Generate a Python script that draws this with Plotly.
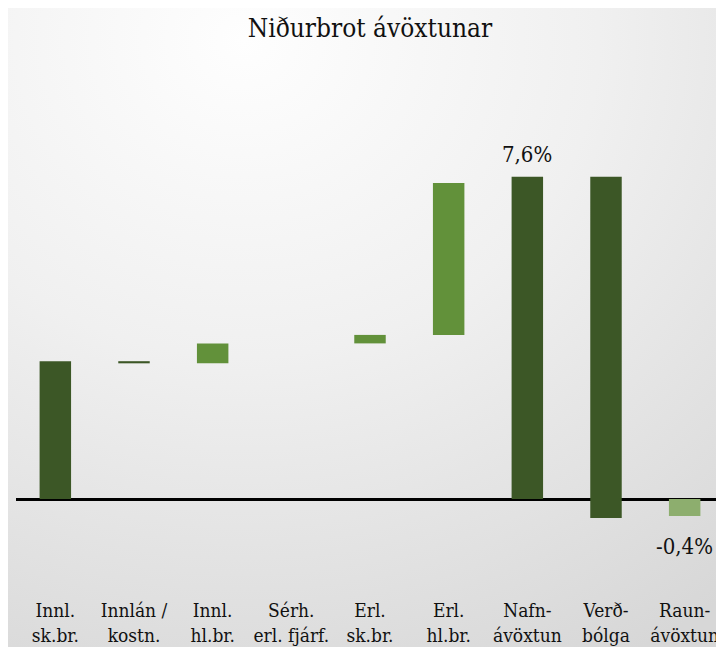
import base64
import plotly.graph_objects as go

# categories (x tick labels) and bar ends in %
categories = ["Innl.<br>sk.br.", "Innlán /<br>kostn.", "Innl.<br>hl.br.", "Sérh.<br>erl. fjárf.",
              "Erl.<br>sk.br.", "Erl.<br>hl.br.", "Nafn-<br>ávöxtun", "Verð-<br>bólga", "Raun-<br>ávöxtun"]
bar_start = [0.0, 3.25, 3.20, 3.67, 3.67, 3.87, 0.0, 7.6, 0.0]
bar_end = [3.25, 3.20, 3.67, 3.67, 3.87, 7.45, 7.6, -0.45, -0.4]
bar_kind = ["total", "neg", "pos", "pos", "pos", "pos", "total", "neg", "real"]
show_label = [False, False, False, False, False, False, True, False, True]

kind_colors = {"total": "#3C5726", "neg": "#3C5726", "pos": "#62913A", "real": "#8DAE6E"}
serif = "DejaVu Serif Condensed, Liberation Serif, serif"

# the page body adds an 8px margin, so the figure is 8px smaller each way
W, H = 716, 639
ML, MR, MT, MB = 8, 0, 131, 89
zero_px = 491
px_per_pct = 42.4
y_top = (zero_px - MT) / px_per_pct
y_bot = -((H - MB) - zero_px) / px_per_pct

fig = go.Figure()
fig.add_trace(go.Bar(
    x=categories,
    y=[e - s for s, e in zip(bar_start, bar_end)],
    base=bar_start,
    marker=dict(color=[kind_colors[k] for k in bar_kind], line=dict(width=0)),
    hoverinfo="skip",
    showlegend=False,
))

# value labels on the totals
for cat, val, show in zip(categories, bar_end, show_label):
    if not show:
        continue
    txt = f"{val:.1f}%".replace(".", ",")
    fig.add_annotation(x=cat, y=val, text=txt, showarrow=False,
                       yanchor="bottom" if val > 0 else "top",
                       yshift=8 if val > 0 else -16,
                       font=dict(family=serif, size=22, color="#111"))

# soft grey gradient background
svg = ('<svg xmlns="http://www.w3.org/2000/svg" width="716" height="639" preserveAspectRatio="none">'
       '<defs><radialGradient id="g" cx="0.33" cy="0.05" r="1.1">'
       '<stop offset="0" stop-color="#fefefe"/><stop offset="0.45" stop-color="#f0f0f0"/>'
       '<stop offset="1" stop-color="#d7d7d7"/></radialGradient></defs>'
       '<rect width="716" height="639" fill="url(#g)"/></svg>')
src = "data:image/svg+xml;base64," + base64.b64encode(svg.encode()).decode()
pw, ph = W - ML - MR, H - MT - MB
fig.add_layout_image(dict(source=src, xref="paper", yref="paper",
                          x=-ML / pw, y=1 + MT / ph, sizex=W / pw, sizey=H / ph,
                          xanchor="left", yanchor="top", sizing="stretch", layer="below"))

fig.update_layout(
    width=W, height=H,
    margin=dict(l=ML, r=MR, t=MT, b=MB),
    paper_bgcolor="#eeeeee",
    plot_bgcolor="rgba(0,0,0,0)",
    bargap=0.6,
    title=dict(text="Niðurbrot ávöxtunar", x=0.5, xref="paper", y=1 - 20 / H, yanchor="middle",
               font=dict(family=serif, size=26, color="#111")),
    font=dict(family=serif, size=19, color="#111"),
    xaxis=dict(showgrid=False, showline=False, ticks="", tickangle=0, ticklabelstandoff=39),
    yaxis=dict(range=[y_bot, y_top], showgrid=False, showticklabels=False,
               zeroline=True, zerolinecolor="black", zerolinewidth=2.5),
)

fig.write_html("out.html")
